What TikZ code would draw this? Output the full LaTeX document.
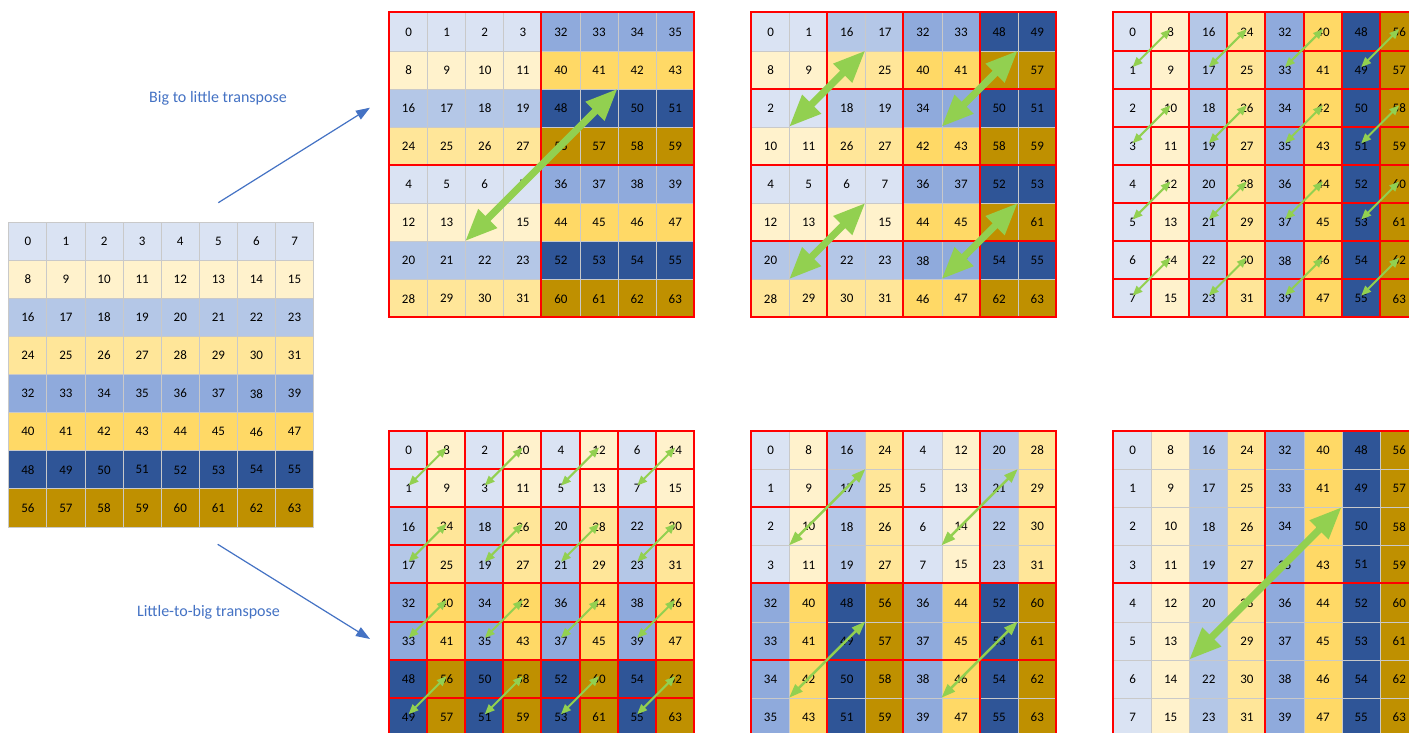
\documentclass[tikz,border=0pt]{standalone}
\usepackage{fontspec}
\setmainfont{Carlito}
\usetikzlibrary{arrows.meta}
\definecolor{row0}{HTML}{DAE3F3}
\definecolor{row1}{HTML}{FFF2CC}
\definecolor{row2}{HTML}{B4C7E7}
\definecolor{row3}{HTML}{FFE699}
\definecolor{row4}{HTML}{8FAADC}
\definecolor{row5}{HTML}{FFD966}
\definecolor{row6}{HTML}{2F5597}
\definecolor{row7}{HTML}{BF9000}
\definecolor{linkblue}{HTML}{4472C4}
\definecolor{swapgreen}{HTML}{92D050}
\definecolor{cellline}{HTML}{C9C9C9}
\begin{document}
\begin{tikzpicture}[x=1pt,y=-1pt,font=\fontsize{13}{15}\selectfont,
  cell/.style={draw=cellline,line width=1pt,minimum size=38.1pt,inner sep=0pt,anchor=north west},
  block/.style={draw=red,line width=2pt},
  bigswap/.style={swapgreen,line width=7pt,{Triangle[length=32pt,width=25pt]}-{Triangle[length=32pt,width=25pt]}},
  midswap/.style={swapgreen,line width=2.5pt,{Triangle[length=14pt,width=10pt]}-{Triangle[length=14pt,width=10pt]}},
  smallswap/.style={swapgreen,line width=2pt,{Triangle[length=10pt,width=8pt]}-{Triangle[length=10pt,width=8pt]}},
  steplabel/.style={text=linkblue,font=\fontsize{16}{19}\selectfont},
  link/.style={linkblue,line width=1.2pt,-{Triangle[length=14pt,width=10pt]}}]
  \useasboundingbox (0,0) rectangle (1409,733);
  \fill[white] (0,0) rectangle (1409,733);
  \foreach \r in {0,...,7} {
    \foreach \c in {0,...,7} {
      \pgfmathtruncatemacro{\val}{8*\r+\c}
      \node[cell,fill=row\r] (src-\r-\c) at (8.3+38.1*\c,221.7+38.1*\r) {\val};
    }
  }
  \foreach \g/\gx/\gy/\lo/\hi/\blk/\fixq in {tA/389/12.5/2/3/4/0,tB/751/12.5/1/3/2/1,tC/1113/12.5/0/3/1/0,
                                             bA/389/431/0/1/1/0,bB/751/431/0/2/2/0,bC/1113/431/0/3/4/0} {
    \foreach \r in {0,...,7} {
      \foreach \c in {0,...,7} {
        \pgfmathtruncatemacro{\low}{\lo+\fixq*(\r>3)*(\c<4)}
        \pgfmathtruncatemacro{\rbits}{mod(\r,2^\hi)-mod(\r,2^\low)}
        \pgfmathtruncatemacro{\cbits}{mod(\c,2^\hi)-mod(\c,2^\low)}
        \pgfmathtruncatemacro{\rr}{\r-\rbits+\cbits}
        \pgfmathtruncatemacro{\cc}{\c-\cbits+\rbits}
        \pgfmathtruncatemacro{\val}{8*\rr+\cc}
        \node[cell,fill=row\rr] (\g-\r-\c) at (\gx+38.1*\c,\gy+38.1*\r) {\val};
      }
    }
    \pgfmathtruncatemacro{\nb}{8/\blk-1}
    \foreach \i in {0,...,\nb} {
      \foreach \j in {0,...,\nb} {
        \draw[block] (\gx+38.1*\blk*\j,\gy+38.1*\blk*\i) rectangle +(38.1*\blk,38.1*\blk);
      }
    }
  }
  \draw[bigswap] (tA-6-2.north west) -- (tA-2-6.north west);
  \draw[bigswap] (bC-6-2.north west) -- (bC-2-6.north west);
  \foreach \a/\b in {3-1/1-3,3-5/1-7,7-1/5-3,7-5/5-7} {
    \draw[bigswap] (tB-\a.north west) -- (tB-\b.north west);
    \draw[midswap] (bB-\a.north west) -- (bB-\b.north west);
  }
  \foreach \a/\b/\p/\q in {1/0/0/1,1/2/0/3,1/4/0/5,1/6/0/7,3/0/2/1,3/2/2/3,3/4/2/5,3/6/2/7,
                           5/0/4/1,5/2/4/3,5/4/4/5,5/6/4/7,7/0/6/1,7/2/6/3,7/4/6/5,7/6/6/7} {
    \draw[smallswap] ([yshift=3pt]tC-\a-\b.center) -- ([yshift=3pt]tC-\p-\q.center);
    \draw[smallswap] ([yshift=3pt]bA-\a-\b.center) -- ([yshift=3pt]bA-\p-\q.center);
  }
  \node[steplabel] (bigtolittle) at (218,98) {Big to little transpose};
  \node[steplabel] (littletobig) at (208.5,612) {Little-to-big transpose};
  \coordinate (upfrom) at (218.3,202.7);
  \coordinate (upto) at (370,107.7);
  \coordinate (downfrom) at (217.7,544.3);
  \coordinate (downto) at (370,639);
  \draw[link] (upfrom) -- (upto);
  \draw[link] (downfrom) -- (downto);
\end{tikzpicture}
\end{document}
